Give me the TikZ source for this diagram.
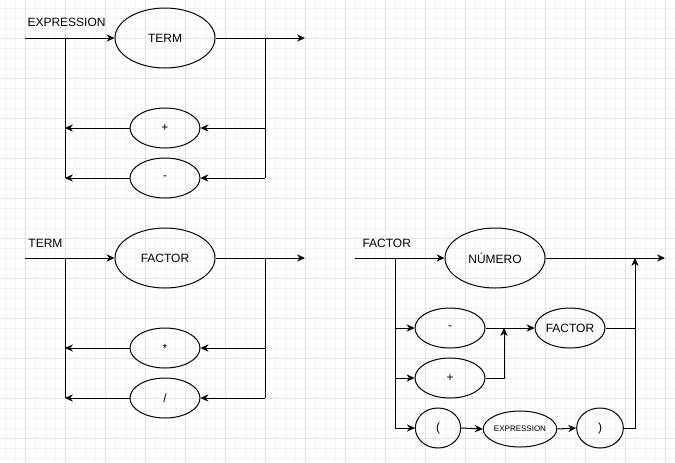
\documentclass[tikz,border=0pt]{standalone}
\usepackage{fontspec}
\setmainfont{Liberation Sans}
\usetikzlibrary{shapes.geometric,arrows.meta}
\definecolor{gminorc}{HTML}{F3F3F3}
\definecolor{gmajorc}{HTML}{E2E2E2}
\begin{document}
\begin{tikzpicture}[x=0.75pt,y=-0.75pt,line width=0.75pt,
  conn/.style={-{Stealth[length=6pt,width=5.5pt,inset=2pt]}},
  gminor/.style={draw=gminorc,line width=0.75pt},
  gmajor/.style={draw=gmajorc,line width=0.75pt},
  oval/.style={ellipse,draw,line width=0.75pt,inner sep=0pt,font=\fontsize{9}{11}\selectfont},
  big/.style={oval,minimum width=75pt,minimum height=45pt},
  small/.style={oval,minimum width=52.5pt,minimum height=30pt},
  lbl/.style={anchor=west,inner sep=0pt,font=\fontsize{9}{11}\selectfont}]
\useasboundingbox (0,0) rectangle (675,462);
\fill[white] (0,0) rectangle (675,462);
% grid
\foreach \x in {5,15,...,675} \draw[gminor] (\x,0) -- (\x,462);
\foreach \y in {8,18,...,458} \draw[gminor] (0,\y) -- (675,\y);
\foreach \x in {25,65,...,665} \draw[gmajor] (\x,0) -- (\x,462);
\foreach \y in {38,78,...,438} \draw[gmajor] (0,\y) -- (675,\y);

% ---------- EXPRESSION ----------
\node[lbl] (lab1) at (27,22) {EXPRESSION};
\coordinate (s1) at (25,38);
\node[big] (term1) at (165,38) {TERM};
\coordinate (o1) at (305,38);
\coordinate (l1) at (65,38);
\coordinate (r1) at (265,38);
\node[small] (plus1) at (165,128) {+};
\node[small] (minus1) at (165,178) {-};
\draw[conn] (s1) -- (term1.west);
\draw[conn] (term1.east) -- (o1);
\draw (r1) -- (r1 |- minus1.east);
\draw[conn] (r1 |- plus1.east) -- (plus1.east);
\draw[conn] (r1 |- minus1.east) -- (minus1.east);
\draw[conn] (plus1.west) -- (l1 |- plus1.west);
\draw[conn] (minus1.west) -- (l1 |- minus1.west);
\draw (l1) -- (l1 |- minus1.west);

% ---------- TERM ----------
\node[lbl] (lab2) at (28,243) {TERM};
\coordinate (s2) at (25,258);
\node[big] (fact2) at (165,258) {FACTOR};
\coordinate (o2) at (305,258);
\coordinate (l2) at (65,258);
\coordinate (r2) at (265,258);
\node[small] (mul2) at (165,348) {*};
\node[small] (div2) at (165,398) {/};
\draw[conn] (s2) -- (fact2.west);
\draw[conn] (fact2.east) -- (o2);
\draw (r2) -- (r2 |- div2.east);
\draw[conn] (r2 |- mul2.east) -- (mul2.east);
\draw[conn] (r2 |- div2.east) -- (div2.east);
\draw[conn] (mul2.west) -- (l2 |- mul2.west);
\draw[conn] (div2.west) -- (l2 |- div2.west);
\draw (l2) -- (l2 |- div2.west);

% ---------- FACTOR ----------
\node[lbl] (lab3) at (362,243) {FACTOR};
\coordinate (s3) at (355,258);
\node[big] (num) at (495,258) {NÚMERO};
\coordinate (o3) at (665,258);
\coordinate (l3) at (395,258);
\coordinate (r3) at (635,258);
\node[small] (neg) at (450,328) {-};
\node[small] (pos) at (450,378) {+};
\node[oval,minimum width=34pt,minimum height=30pt] (lp) at (438,428) {(};
\node[oval,minimum width=52.5pt,minimum height=27pt,font=\fontsize{6}{7}\selectfont] (expr) at (520,429) {EXPRESSION};
\node[oval,minimum width=35pt,minimum height=30pt] (rp) at (600,428) {)};
\node[small] (fac) at (570,328) {FACTOR};
\coordinate (m3) at (504,328);
\draw[conn] (s3) -- (num.west);
\draw[conn] (num.east) -- (o3);
\draw (l3) -- (l3 |- lp.west);
\draw[conn] (l3 |- neg.west) -- (neg.west);
\draw[conn] (l3 |- pos.west) -- (pos.west);
\draw[conn] (l3 |- lp.west) -- (lp.west);
\draw[conn] (neg.east) -- (fac.west);
\draw[conn] (pos.east) -| (m3);
\draw[conn] (lp.east) -- (expr.west);
\draw[conn] (expr.east) -- (rp.west);
\draw[conn] (rp.east) -| (r3);
\draw (fac.east) -- (fac.east -| r3);
\end{tikzpicture}
\end{document}
